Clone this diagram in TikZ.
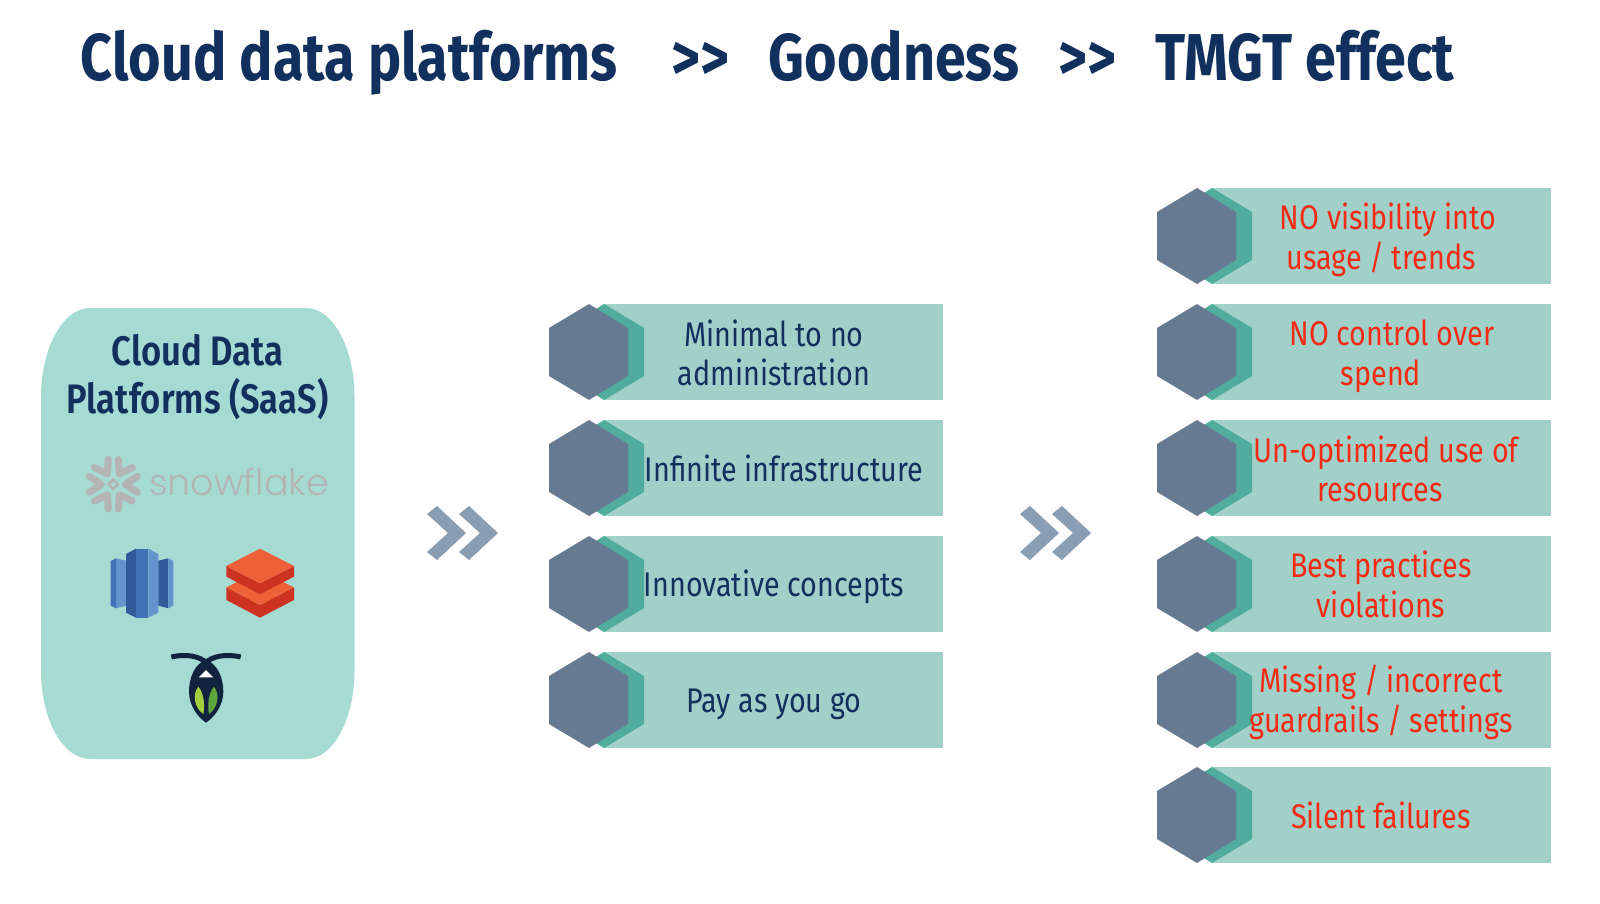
\documentclass[tikz,border=0pt]{standalone}
\usepackage{fontspec}
\setmainfont[FakeStretch=0.84]{Fira Sans}
\newfontfamily\firasemi[FakeStretch=0.84]{Fira Sans SemiBold}
\newfontfamily\sflogo{Poppins Light}
\definecolor{navy}{HTML}{12305E}
\definecolor{barc}{HTML}{A1D0C9}
\definecolor{pillc}{HTML}{A6DBD3}
\definecolor{tealh}{HTML}{50AC9C}
\definecolor{slateh}{HTML}{667A91}
\definecolor{chev}{HTML}{8A9EB3}
\definecolor{redt}{HTML}{F42A14}
\definecolor{logog}{HTML}{B4B4B4}
\definecolor{rsdark}{HTML}{2F5B99}
\definecolor{rsmid}{HTML}{4272B6}
\definecolor{rslight}{HTML}{6394CE}
\definecolor{dbtop}{HTML}{EE6038}
\definecolor{dbside}{HTML}{CC3421}
\definecolor{fly}{HTML}{12233F}
\definecolor{wingl}{HTML}{A2CF3C}
\definecolor{wingr}{HTML}{5EA63C}
\newcommand{\hexbar}[2]{%
\begin{scope}[shift={(#1,#2)}]
\fill[barc] (604,304) rectangle (943,400);
\fill[tealh] (604,304) -- (644,328) -- (644,376) -- (604,400) -- (565,376) -- (565,328) -- cycle;
\fill[slateh] (589,304) -- (628,328) -- (628,376) -- (589,400) -- (549,376) -- (549,328) -- cycle;
\end{scope}}
\begin{document}
\begin{tikzpicture}[x=1pt,y=-1pt,
  titletxt/.style={text=navy,font=\fontsize{66.3}{68}\selectfont\bfseries,anchor=base,inner sep=0},
  bartxt/.style={text=navy,font=\fontsize{34.2}{39.5}\selectfont,align=center,anchor=center,inner sep=0},
  redtxt/.style={bartxt,text=redt},
  pilltxt/.style={bartxt,font=\fontsize{41.2}{48}\firasemi}]
\useasboundingbox (0,0) rectangle (1600,904);
\fill[white] (0,0) rectangle (1600,904);
\node[titletxt] (t1) at (349.4,81) {Cloud data platforms};
\node[titletxt] (t2) at (700,81) {>{}>};
\node[titletxt] (t3) at (894,81) {Goodness};
\node[titletxt] (t4) at (1087,81) {>{}>};
\node[titletxt] (t5) at (1305,81) {TMGT effect};
\fill[pillc] (90,308) -- (306,308) .. controls (333,308) and (354.5,348) .. (354.5,397)
  -- (354.5,670) .. controls (354.5,720) and (333,759) .. (306,759)
  -- (90,759) .. controls (63,759) and (41,720) .. (41,670)
  -- (41,397) .. controls (41,348) and (63,308) .. (90,308) -- cycle;
\node[pilltxt] (p) at (197.5,377.5) {Cloud Data\\Platforms (SaaS)};
\foreach \oy in {0,116,232,348} {\hexbar{0}{\oy}}
\foreach \oy in {-116,0,116,232,348,463} {\hexbar{608}{\oy}}
\node[bartxt] (a1) at (774,353) {Minimal to no\\administration};
\node[bartxt] (a2) at (784,468) {Infinite infrastructure};
\node[bartxt] (a3) at (774,587) {Innovative concepts};
\node[bartxt] (a4) at (774,704) {Pay as you go};
\node[redtxt] (b1) at (1381,240) {\hspace*{14pt}NO visibility into\\usage / trends};
\node[redtxt] (b2) at (1381,356.5) {\hspace*{22pt}NO control over\\spend};
\node[redtxt] (b3) at (1380,469) {\hspace*{12pt}Un-optimized use of\\resources};
\node[redtxt] (b4) at (1381,584.5) {Best practices\\violations};
\node[redtxt] (b5) at (1381,702.5) {Missing / incorrect\\guardrails / settings};
\node[redtxt] (b6) at (1381,815) {Silent failures};
\foreach \cx in {0,593}{
\begin{scope}[shift={(\cx,0)}]
\fill[chev] (437,506) -- (466,533) -- (437,560) -- (427,552) -- (448,533) -- (427,514) -- cycle;
\fill[chev] (469,506) -- (498,533) -- (469,560) -- (459,552) -- (480,533) -- (459,514) -- cycle;
\end{scope}}
\node[anchor=base west,inner sep=0,text=logog,font=\fontsize{36.4}{40}\sflogo] (sf) at (149,495) {snowflake};
\begin{scope}[shift={(30,430)},x=0.33333pt,y=-0.33333pt]
% snowflake mark
\begin{scope}[shift={(250,163)}]
\foreach \a in {0,60,...,300}{
\begin{scope}[rotate=\a]
\draw[logog,line width=7pt,line cap=round,line join=round] (72,-24) -- (36,0) -- (72,24);
\end{scope}}
\draw[logog,line width=2.5pt] (0,-14) -- (14,0) -- (0,14) -- (-14,0) -- cycle;
\end{scope}
% redshift
\fill[rslight] (258,385) -- (288,392) -- (288,527) -- (258,535) -- cycle;
\fill[rsmid] (242,393) -- (258,385) -- (258,535) -- (242,527) -- cycle;
\fill[rsdark] (288,372) -- (318,356) -- (318,563) -- (288,548) -- cycle;
\fill[rsmid] (318,356) -- (355,356) -- (355,563) -- (318,563) -- cycle;
\fill[rslight] (355,356) -- (385,372) -- (385,548) -- (355,563) -- cycle;
\fill[rsdark] (385,392) -- (415,385) -- (415,535) -- (385,527) -- cycle;
\fill[rslight] (415,385) -- (430,393) -- (430,527) -- (415,535) -- cycle;
% databricks
\fill[dbside] (589,472) -- (690,525) -- (792,472) -- (792,510) -- (690,563) -- (589,510) -- cycle;
\fill[dbtop] (589,472) -- (623,455) -- (690,493) -- (757,455) -- (792,472) -- (690,525) -- cycle;
\fill[dbside] (589,408) -- (690,460) -- (792,408) -- (792,440) -- (690,493) -- (589,440) -- cycle;
\fill[dbtop] (690,356) -- (792,408) -- (690,460) -- (589,408) -- cycle;
% firefly
\draw[fly,line width=5pt] (424,681) .. controls (470,670) and (510,680) .. (528,697) .. controls (546,680) and (586,670) .. (632,681);
\fill[fly] (528,690) .. controls (560,700) and (580,740) .. (580,785) .. controls (580,825) and (555,860) .. (528,878) .. controls (501,860) and (477,825) .. (477,785) .. controls (477,740) and (496,700) .. (528,690) -- cycle;
\fill[white] (528,720) -- (550,742) -- (506,742) -- cycle;
\fill[wingl] (505,770) .. controls (485,795) and (495,835) .. (520,852) .. controls (525,825) and (522,790) .. (505,770) -- cycle;
\fill[wingr] (552,770) .. controls (572,795) and (562,835) .. (537,852) .. controls (532,825) and (535,790) .. (552,770) -- cycle;
\end{scope}
\end{tikzpicture}
\end{document}
